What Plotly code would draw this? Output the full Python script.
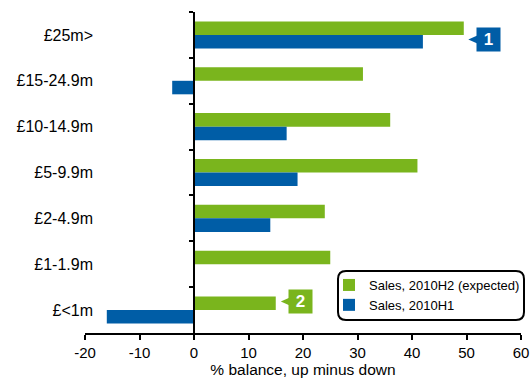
import plotly.graph_objects as go

categories = ["£25m>", "£15-24.9m", "£10-14.9m", "£5-9.9m", "£2-4.9m", "£1-1.9m", "£<1m"]
sales_h2 = [49.5, 31, 36, 41, 24, 25, 15]
sales_h1 = [42, -4, 17, 19, 14, 0, -16]
series_names = ["Sales, 2010H2 (expected)", "Sales, 2010H1"]
x_ticks = [-20, -10, 0, 10, 20, 30, 40, 50, 60]
x_tick_labels = [str(v) for v in x_ticks]

GREEN = "#7AB51D"
BLUE = "#005DA6"
FONT = "Liberation Sans"

W, H = 532, 378
ml, mr, mt, mb = 0, 11, 12, 45
pw = W - ml - mr
ph = H - mt - mb
plot_left_px = 85
xmin, xmax = -20, 60
dom0 = plot_left_px / pw
zero_pos = dom0 + (0 - xmin) / (xmax - xmin) * (1 - dom0)

fig = go.Figure()
fig.add_trace(go.Bar(y=categories, x=sales_h2, orientation="h", name=series_names[0],
                     marker=dict(color=GREEN, line=dict(width=0))))
fig.add_trace(go.Bar(y=categories, x=sales_h1, orientation="h", name=series_names[1],
                     marker=dict(color=BLUE, line=dict(width=0))))
# helper trace for the axis line drawn at zero
fig.add_trace(go.Scatter(y=categories, x=[0] * len(categories), yaxis="y2", mode="markers",
                         marker=dict(opacity=0), showlegend=False, hoverinfo="skip"))

rng = [len(categories) - 0.5, -0.5]
fig.update_layout(
    width=W, height=H,
    margin=dict(l=ml, r=mr, t=mt, b=mb, autoexpand=False),
    paper_bgcolor="white", plot_bgcolor="white",
    font=dict(family=FONT, size=15, color="black"),
    barmode="group", bargap=0.41, bargroupgap=0,
    showlegend=True,
    legend=dict(x=329 / pw, y=(333 - 270) / ph, xanchor="left", yanchor="top",
                bgcolor="rgba(0,0,0,0)", borderwidth=0,
                font=dict(family=FONT, size=13, color="black"),
                tracegroupgap=0, itemwidth=30),
    xaxis=dict(range=[xmin, xmax], domain=[dom0, 1], tickvals=x_ticks, ticktext=x_tick_labels,
               ticks="outside", ticklen=5, tickwidth=2, tickcolor="black",
               showline=True, linecolor="black", linewidth=2,
               showgrid=False, zeroline=False, automargin=False,
               tickfont=dict(size=15),
               title=dict(text="% balance, up minus down", font=dict(size=15.5), standoff=4)),
    yaxis=dict(type="category", categoryarray=categories, range=rng,
               anchor="free", position=93 / pw, showline=False, ticks="",
               showgrid=False, zeroline=False, automargin=False, tickfont=dict(size=16)),
    yaxis2=dict(type="category", categoryarray=categories, range=rng, overlaying="y",
                anchor="free", position=zero_pos, showline=True, linecolor="black",
                linewidth=2, ticks="outside", ticklen=4, tickwidth=2, tickcolor="black",
                tickson="boundaries", showticklabels=False, showgrid=False, zeroline=False,
                automargin=False),
)

# callout boxes
callouts = [("1", BLUE, 54.0, 0, -4.6), ("2", GREEN, 19.6, 6, 8.6)]
for txt, col, xv, ci, ysh in callouts:
    fig.add_annotation(x=xv, y=categories[ci], xref="x", yref="y", text="<b>%s</b>" % txt,
                       showarrow=False, bgcolor=col, width=23, height=23, borderpad=0,
                       font=dict(family=FONT, size=17, color="white"), yshift=ysh)
    fig.add_shape(type="path", xref="x", yref="y", xsizemode="pixel", ysizemode="pixel",
                  xanchor=xv, yanchor=ci,
                  path="M -20,%f L -11,%f L -11,%f Z" % (ysh, ysh + 4, ysh - 4),
                  fillcolor=col, line=dict(width=0))

# rounded legend frame
r = 8
x0, x1, y0, y1 = -183, 3, 13, 62
p = ("M %d,%d L %d,%d Q %d,%d %d,%d L %d,%d Q %d,%d %d,%d L %d,%d Q %d,%d %d,%d L %d,%d Q %d,%d %d,%d Z" % (
    x0 + r, y0, x1 - r, y0, x1, y0, x1, y0 + r, x1, y1 - r, x1, y1, x1 - r, y1,
    x0 + r, y1, x0, y1, x0, y1 - r, x0, y0 + r, x0, y0, x0 + r, y0))
fig.add_shape(type="path", xref="paper", yref="paper", xsizemode="pixel", ysizemode="pixel",
              xanchor=1, yanchor=0, path=p, line=dict(color="black", width=2),
              fillcolor="rgba(0,0,0,0)")

fig.write_html("out.html")
